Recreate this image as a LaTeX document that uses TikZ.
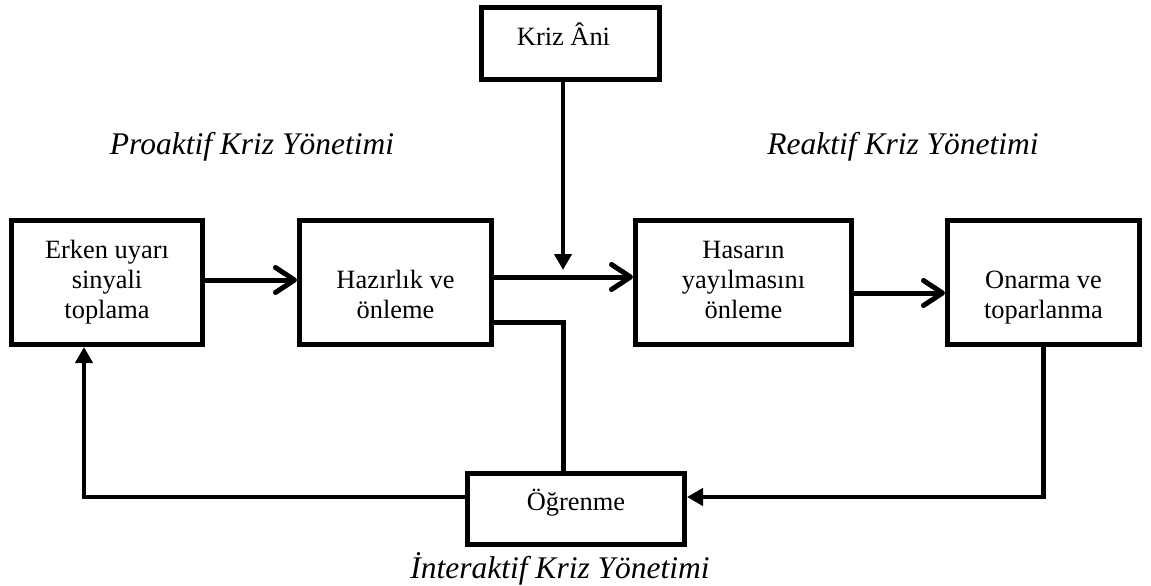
\documentclass[tikz,border=0pt]{standalone}
\usepackage{fontspec}
\setmainfont{Liberation Serif}
\usetikzlibrary{arrows.meta}
\begin{document}
\begin{tikzpicture}[x=1pt,y=-1pt,
  txt/.style={font=\fontsize{26.4}{30}\selectfont},
  box/.style={draw,line width=5pt,align=center,inner sep=0pt,txt},
  ital/.style={font=\fontsize{31.5}{36}\selectfont\itshape,anchor=base,inner sep=0pt},
  openarr/.style={line width=5pt,-{Straight Barb[length=19pt,width=25pt,line cap=round,line join=round]}},
  plainline/.style={line width=4.5pt},
  fillarr/.style={line width=4.5pt,-{Triangle[length=16pt,width=17pt]}}
]
\useasboundingbox (0,0) rectangle (1151,586);

\node[box,minimum width=178pt,minimum height=72pt,
      label={[txt,inner sep=0pt,xshift=-7pt,yshift=9pt]center:Kriz Âni}] (kriz) at (570.5,43.5) {};
\node[box,minimum width=191pt,minimum height=124pt] (erken) at (107,282.5)
  {\strut Erken uyarı\\\strut sinyali\\\strut toplama};
\node[box,minimum width=192pt,minimum height=124pt] (hazir) at (395.5,282.5)
  {\strut\\\strut Hazırlık ve\\\strut önleme};
\node[box,minimum width=216pt,minimum height=124pt] (hasar) at (743.5,282.5)
  {\strut Hasarın\\\strut yayılmasını\\\strut önleme};
\node[box,minimum width=192pt,minimum height=124pt] (onarma) at (1043.5,282.5)
  {\strut\\\strut Onarma ve\\\strut toparlanma};
\node[box,minimum width=217pt,minimum height=71pt,
      label={[txt,inner sep=0pt,yshift=6pt]center:Öğrenme}] (ogren) at (576,509) {};

\node[ital] (pro) at (252,154) {Proaktif Kriz Yönetimi};
\node[ital] (rea) at (903,154) {Reaktif Kriz Yönetimi};
\node[ital] (inter) at (560,578) {İnteraktif Kriz Yönetimi};

\coordinate (kd) at (563,270);

\draw[openarr] ([yshift=2.5pt]erken.east) -- ([yshift=2.5pt]hazir.west);
\draw[openarr] ([yshift=5.5pt]hazir.east) -- ([yshift=5.5pt]hasar.west);
\draw[openarr] ([yshift=-10.5pt]hasar.east) -- ([yshift=-10.5pt]onarma.west);
\draw[fillarr] (kriz.south -| kd) -- (kd);
\draw[plainline,line width=5pt] ([yshift=-39.5pt]hazir.east) -| ([xshift=-13pt]ogren.north);
\draw[fillarr] (onarma.south) |- ([yshift=12pt]ogren.east);
\draw[fillarr] ([yshift=12pt]ogren.west) -| ([xshift=-23pt]erken.south);
\end{tikzpicture}
\end{document}
